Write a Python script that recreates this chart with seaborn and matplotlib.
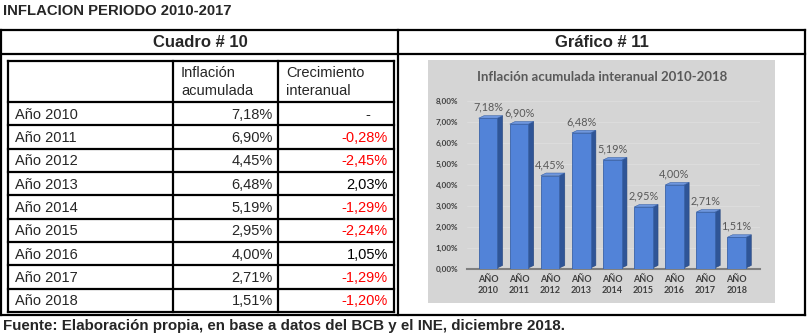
import matplotlib
matplotlib.use("Agg")
import matplotlib.pyplot as plt
import seaborn as sns
import pandas as pd
from matplotlib.patches import Rectangle, Polygon

# ---------------- data ----------------
page_title = "INFLACION PERIODO 2010-2017"
table_title = "Cuadro # 10"
chart_box_title = "Gráfico # 11"
chart_title = "Inflación acumulada interanual 2010-2018"
footer = "Fuente: Elaboración propia, en base a datos del BCB y el INE, diciembre 2018."
col_headers = ["Inflación\nacumulada", "Crecimiento\ninteranual"]
row_labels = ["Año 2010", "Año 2011", "Año 2012", "Año 2013", "Año 2014",
              "Año 2015", "Año 2016", "Año 2017", "Año 2018"]
inflacion = [7.18, 6.90, 4.45, 6.48, 5.19, 2.95, 4.00, 2.71, 1.51]
crecimiento = [None, -0.28, -2.45, 2.03, -1.29, -2.24, 1.05, -1.29, -1.20]
bar_labels = ["AÑO\n2010", "AÑO\n2011", "AÑO\n2012", "AÑO\n2013", "AÑO\n2014",
              "AÑO\n2015", "AÑO\n2016", "AÑO\n2017", "AÑO\n2018"]
y_ticks = [0, 1, 2, 3, 4, 5, 6, 7, 8]


def pct(v):
    return f"{v:.2f}".replace(".", ",") + "%"


sns.set_theme(style="white")
plt.rcParams["font.family"] = ["Liberation Sans", "DejaVu Sans"]

W, H = 812, 336
fig = plt.figure(figsize=(W / 100, H / 100), dpi=100)
fig.patch.set_facecolor("white")

bg = fig.add_axes([0, 0, 1, 1])
bg.set_xlim(0, W)
bg.set_ylim(H, 0)
bg.axis("off")


def line(x0, y0, x1, y1, lw=1.6):
    bg.plot([x0, x1], [y0, y1], color="black", lw=lw, solid_capstyle="projecting")


# page title & footer
bg.text(3, 11, page_title, fontsize=10.7, fontweight="bold", va="center", ha="left")
bg.text(3, 326, footer, fontsize=10.9, fontweight="bold", va="center", ha="left")

# outer box
OX0, OX1, OY0, OY1 = 1.5, 805, 30, 315
line(OX0, OY0, OX1, OY0)
line(OX0, OY1, OX1, OY1)
line(OX0, OY0, OX0, OY1)
line(OX1, OY0, OX1, OY1)
line(OX0, 54, OX1, 54)
line(398.5, OY0, 398.5, OY1)
bg.text(200, 42.5, table_title, fontsize=12, fontweight="bold", ha="center", va="center")
bg.text(602, 42.5, chart_box_title, fontsize=12, fontweight="bold", ha="center", va="center")

# inner table
TX0, TX1, TY0, TY1 = 8, 394, 61, 312
C1, C2 = 173, 278
HY = 102
RH = (TY1 - HY) / len(row_labels)
line(TX0, TY0, TX1, TY0)
line(TX0, TY1, TX1, TY1)
line(TX0, TY0, TX0, TY1)
line(TX1, TY0, TX1, TY1)
line(C1, TY0, C1, TY1)
line(C2, TY0, C2, TY1)
for i in range(len(row_labels)):
    line(TX0, HY + i * RH, TX1, HY + i * RH)

fs = 10.5
bg.text(181, 82, col_headers[0], fontsize=fs, ha="left", va="center", linespacing=1.3)
bg.text(286, 82, col_headers[1], fontsize=fs, ha="left", va="center", linespacing=1.3)
for i, (lab, inf, cre) in enumerate(zip(row_labels, inflacion, crecimiento)):
    yc = HY + RH * (i + 0.5) + 1
    bg.text(15, yc, lab, fontsize=fs, ha="left", va="center")
    bg.text(273, yc, pct(inf), fontsize=fs, ha="right", va="center")
    if cre is None:
        bg.text(368, yc, "-", fontsize=fs, ha="center", va="center")
    else:
        bg.text(388, yc, pct(cre), fontsize=fs, ha="right", va="center",
                color="#ff0000" if cre < 0 else "black")

# chart panel background
bg.add_patch(Rectangle((428, 60), 347, 243, facecolor="#d5d5d5", edgecolor="none", zorder=0))
bg.text(602, 77, chart_title, fontsize=9.5, fontweight="bold", color="#595959",
        ha="center", va="center", family=["Lato", "DejaVu Sans"])

# chart axes
ax = fig.add_axes([467 / W, 1 - 269 / H, 293 / W, 168 / H])
ax.set_facecolor("none")
df = pd.DataFrame({"anio": bar_labels, "inflacion": inflacion})
sns.barplot(data=df, x="anio", y="inflacion", color="#5283d8", saturation=1,
            width=0.6, edgecolor="#3a63a8", linewidth=0.6, ax=ax, zorder=3)
ax.set_ylim(0, 8)
ax.set_xlim(-0.675, 8.75)
ax.set_yticks(y_ticks)
ax.set_yticklabels([pct(v) for v in y_ticks])
ax.set_xlabel("")
ax.set_ylabel("")
ax.yaxis.grid(True, color="#dedede", lw=0.6, zorder=0)
for s in ["top", "right", "left"]:
    ax.spines[s].set_visible(False)
ax.spines["bottom"].set_color("#7f7f7f")
ax.spines["bottom"].set_linewidth(1.5)
ax.tick_params(axis="y", length=0, pad=6.5, labelsize=5.8, labelcolor="#404040")
ax.tick_params(axis="x", length=0, pad=4, labelsize=6.5, labelcolor="#404040")
for t in ax.get_yticklabels() + ax.get_xticklabels():
    t.set_fontweight("bold")
    t.set_family(["Lato", "DejaVu Sans"])
for t in ax.get_xticklabels():
    t.set_linespacing(1.3)

# pseudo-3D side and top faces derived from bar patches
dx, dy = 0.17, 0.12
for p in list(ax.patches):
    x0 = p.get_x()
    x1 = x0 + p.get_width()
    h = p.get_height()
    ax.add_patch(Polygon([(x1, 0.05), (x1 + dx, 0.05 + dy), (x1 + dx, h + dy), (x1, h)],
                         closed=True, facecolor="#2f5597", edgecolor="#27477e", lw=0.4, zorder=2.9))
    ax.add_patch(Polygon([(x0, h), (x0 + dx, h + dy), (x1 + dx, h + dy), (x1, h)],
                         closed=True, facecolor="#6f97de", edgecolor="#3a63a8", lw=0.4, zorder=2.9))

ax.bar_label(ax.containers[0], labels=[pct(v) for v in inflacion], padding=4,
             fontsize=7.8, color="#595959", family=["Lato", "DejaVu Sans"])

fig.savefig("out.png", dpi=100)
